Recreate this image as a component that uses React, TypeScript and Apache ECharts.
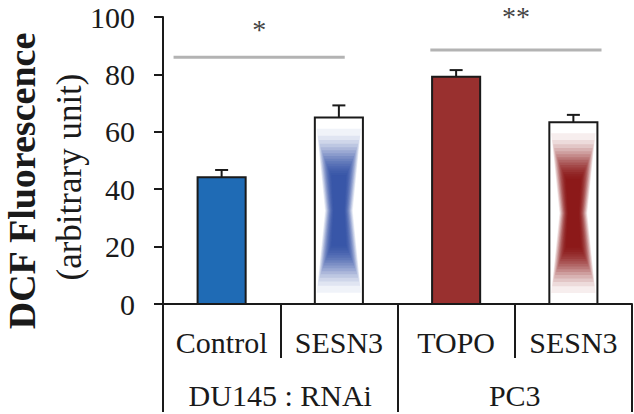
import React, { useEffect, useRef } from "react";
import * as echarts from "echarts";

// ---- data ----
const categories = ["Control", "SESN3", "TOPO", "SESN3"];
const groups = ["DU145 : RNAi", "PC3"];
const means = [44.2, 65.0, 79.2, 63.3];
const errors = [2.5, 4.2, 2.3, 2.6];
const fillKinds = ["solid", "gradient", "solid", "gradient"];
const sigFrom = [-0.41, 1.78];
const sigTo = [1.05, 3.24];
const sigLevel = [86, 88.5];
const sigStarLevel = [96.5, 100.7];
const sigLabels = ["*", "**"];

// ---- styles ----
const barColors = ["#1f6bb5", "#2f4ea6", "#99302f", "#880e0e"];
const FONT = "Liberation Serif";
const INK = "#1a1a1a";
const LAYERS = 16;

export default function App() {
  const ref = useRef<HTMLDivElement>(null);
  useEffect(() => {
    if (!ref.current) return;
    const chart = echarts.init(ref.current, null, { renderer: "svg" });
    const barData = means.map((m, i) => [i, m]);
    const sigData = sigFrom.map((f, i) => [f, sigTo[i], sigLevel[i], sigStarLevel[i]]);

    chart.setOption({
      animation: false,
      grid: { left: 163, right: 2, top: 17, bottom: 110, containLabel: false },
      xAxis: [
        {
          type: "category",
          data: categories,
          position: "bottom",
          axisLine: { show: true, onZero: false, lineStyle: { color: INK, width: 2 } },
          axisTick: { show: true, interval: 0, length: 54, alignWithLabel: false, lineStyle: { color: INK, width: 2 } },
          axisLabel: { interval: 0, fontSize: 30, color: INK, fontFamily: FONT, margin: 23 },
          splitLine: { show: false },
        },
        {
          type: "category",
          data: groups,
          position: "bottom",
          axisLine: { show: false, onZero: false },
          axisTick: { show: true, interval: 0, length: 108, lineStyle: { color: INK, width: 2 } },
          axisLabel: { interval: 0, fontSize: 30, color: INK, fontFamily: FONT, margin: 76 },
          splitLine: { show: false },
        },
        { type: "value", min: -0.5, max: 3.5, show: false, position: "top" },
      ],
      yAxis: {
        type: "value",
        min: 0,
        max: 100,
        interval: 20,
        axisLine: { show: true, onZero: false, lineStyle: { color: INK, width: 2 } },
        axisTick: { show: true, length: 9, lineStyle: { color: INK, width: 2 } },
        axisLabel: { fontSize: 30, color: INK, fontFamily: FONT, margin: 28 },
        splitLine: { show: false },
      },
      graphic: [
        {
          type: "text",
          x: 22,
          y: 181,
          rotation: Math.PI / 2,
          style: {
            text: "DCF Fluorescence",
            fontSize: 38,
            fontWeight: "bold",
            fontFamily: FONT,
            fill: INK,
            textAlign: "center",
            textVerticalAlign: "middle",
          },
        },
        {
          type: "text",
          x: 69,
          y: 177,
          rotation: Math.PI / 2,
          style: {
            text: "(arbitrary unit)",
            fontSize: 35,
            fontFamily: FONT,
            fill: INK,
            textAlign: "center",
            textVerticalAlign: "middle",
          },
        },
      ],
      series: [
        {
          type: "custom",
          xAxisIndex: 0,
          data: barData,
          renderItem: (params: any, api: any) => {
            const i = params.dataIndex;
            const v = means[i];
            const top = api.coord([i, v]);
            const base = api.coord([i, 0]);
            const eTop = api.coord([i, v + errors[i]]);
            const w = api.size([1, 0])[0] * 0.41;
            const C = top[0];
            const L = C - w / 2, T = top[1], B = base[1];
            const M = (T + B) / 2;
            const a = w / 2;
            const b = (B - T) / 2;
            const color = barColors[i];
            const children: any[] = [];
            children.push({
              type: "line",
              shape: { x1: C, y1: T, x2: C, y2: eTop[1] },
              style: { stroke: INK, lineWidth: 2 },
            });
            children.push({
              type: "line",
              shape: { x1: C - 6.5, y1: eTop[1], x2: C + 6.5, y2: eTop[1] },
              style: { stroke: INK, lineWidth: 2 },
            });
            if (fillKinds[i] === "solid") {
              children.push({
                type: "rect",
                shape: { x: L, y: T, width: w, height: B - T },
                style: { fill: color, stroke: INK, lineWidth: 2 },
              });
            } else {
              children.push({
                type: "rect",
                shape: { x: L, y: T, width: w, height: B - T },
                style: { fill: "#fff", stroke: "none" },
              });
              for (let k = 0; k < LAYERS; k++) {
                const t = k / (LAYERS - 1);
                const H = b * (0.88 - 0.5 * Math.pow(t, 0.7));
                const We = a * (0.92 - 0.62 * t);
                const Wm = a * (0.58 - 0.36 * t);
                children.push({
                  type: "polygon",
                  shape: {
                    points: [
                      [C - We, M - H], [C + We, M - H], [C + Wm, M],
                      [C + We, M + H], [C - We, M + H], [C - Wm, M],
                    ],
                  },
                  style: { fill: color, opacity: 0.07 + 0.2 * t },
                });
              }
              children.push({
                type: "rect",
                shape: { x: L, y: T, width: w, height: B - T },
                style: { fill: "none", stroke: INK, lineWidth: 2 },
              });
            }
            return { type: "group", children };
          },
          z: 2,
        },
        {
          type: "custom",
          xAxisIndex: 2,
          data: sigData,
          clip: false,
          renderItem: (params: any, api: any) => {
            const k = params.dataIndex;
            const p1 = api.coord([sigFrom[k], sigLevel[k]]);
            const p2 = api.coord([sigTo[k], sigLevel[k]]);
            const ps = api.coord([(sigFrom[k] + sigTo[k]) / 2, sigStarLevel[k]]);
            return {
              type: "group",
              children: [
                { type: "line", shape: { x1: p1[0], y1: p1[1], x2: p2[0], y2: p2[1] }, style: { stroke: "#b3b3b3", lineWidth: 3 } },
                {
                  type: "text",
                  x: ps[0],
                  y: ps[1] + 2,
                  style: {
                    text: sigLabels[k],
                    fontSize: 28,
                    fontFamily: FONT,
                    fill: "#444",
                    textAlign: "center",
                    textVerticalAlign: "middle",
                  },
                },
              ],
            };
          },
          z: 3,
        },
      ],
    });
    return () => chart.dispose();
  }, []);
  return (
    <div
      ref={ref}
      style={{ position: "fixed", left: 0, top: 0, width: 634, height: 414, background: "#fff" }}
    />
  );
}
